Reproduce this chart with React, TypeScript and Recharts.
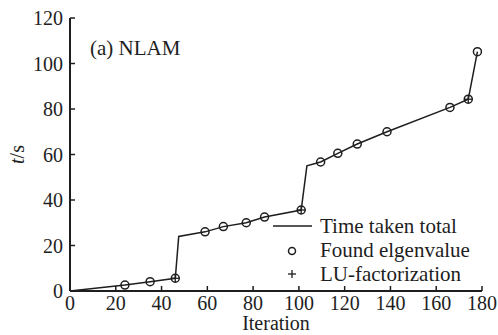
import {
  ComposedChart,
  Label,
  Legend,
  Line,
  ReferenceLine,
  Scatter,
  XAxis,
  YAxis,
} from "recharts";

// total elapsed time curve
const totalIter = [0, 24, 35, 46, 47.5, 59, 67, 77, 85, 101, 103.5, 109.5, 117, 125.5, 138.5, 166, 174, 178];
const totalTime = [0, 2.6, 4.1, 5.6, 24, 26, 28.3, 30, 32.5, 35.6, 55, 56.7, 60.5, 64.6, 70, 80.7, 84.3, 105.2];

// found eigenvalue markers
const eigenIter = [24, 35, 46, 59, 67, 77, 85, 101, 109.5, 117, 125.5, 138.5, 166, 174, 178];
const eigenTime = [2.6, 4.1, 5.6, 26, 28.3, 30, 32.5, 35.6, 56.7, 60.5, 64.6, 70, 80.7, 84.3, 105.2];

// LU-factorization markers
const luIter = [46, 101, 174];
const luTime = [5.6, 35.6, 84.3];

const xTicks = [0, 20, 40, 60, 80, 100, 120, 140, 160, 180];
const yTicks = [0, 20, 40, 60, 80, 100, 120];

const zip = (xs: number[], ys: number[]) => xs.map((x, i) => ({ x, y: ys[i] }));

const totalData = zip(totalIter, totalTime);
const eigenData = zip(eigenIter, eigenTime);
const luData = zip(luIter, luTime);

const FONT = "'Liberation Serif', serif";
const INK = "#1e1e1e";

function CircleMark(props: any) {
  const { cx, cy } = props;
  return <circle cx={cx} cy={cy} r={4} fill="none" stroke={INK} strokeWidth={1.5} />;
}

function PlusMark(props: any) {
  const { cx, cy } = props;
  return (
    <g stroke={INK} strokeWidth={1.3}>
      <line x1={cx - 4} y1={cy} x2={cx + 4} y2={cy} />
      <line x1={cx} y1={cy - 4} x2={cx} y2={cy + 4} />
    </g>
  );
}

function LegendBox() {
  const rows = ["Time taken total", "Found elgenvalue", "LU-factorization"];
  return (
    <svg width={228} height={80} style={{ display: "block" }}>
      <line x1={5} y1={14} x2={44} y2={14} stroke={INK} strokeWidth={1.5} />
      <circle cx={24} cy={39} r={3.5} fill="none" stroke={INK} strokeWidth={1.5} />
      <g stroke={INK} strokeWidth={1.3}>
        <line x1={20} y1={62} x2={28} y2={62} />
        <line x1={24} y1={58} x2={24} y2={66} />
      </g>
      {rows.map((r, i) => (
        <text key={r} x={52} y={21 + i * 24} style={{ fontFamily: FONT, fontSize: 21 }} fill={INK}>
          {r}
        </text>
      ))}
    </svg>
  );
}

function YLabel(props: any) {
  const { viewBox } = props;
  const cx = viewBox.x + 7;
  const cy = viewBox.y + viewBox.height / 2;
  return (
    <text
      x={cx}
      y={cy}
      transform={`rotate(-90, ${cx}, ${cy})`}
      textAnchor="middle"
      dominantBaseline="central"
      style={{ fontFamily: FONT, fontSize: 20 }}
      fill={INK}
    >
      <tspan fontStyle="italic">t</tspan>/s
    </text>
  );
}

export default function App() {
  const tickStyle = { fontFamily: FONT, fontSize: 20, fill: INK };
  return (
    <div style={{ position: "absolute", left: 0, top: 0, width: 498, height: 335, background: "#fff", fontFamily: FONT }}>
      <ComposedChart
        width={498}
        height={335}
        margin={{ top: 18, right: 16, bottom: 0, left: 10 }}
      >
        <XAxis
          type="number"
          dataKey="x"
          domain={[0, 180]}
          ticks={xTicks}
          interval={0}
          tickLine={false}
          tickSize={0}
          tickMargin={5}
          height={44}
          axisLine={{ stroke: INK, strokeWidth: 2 }}
          tick={tickStyle}
        >
          <Label
            value="Iteration"
            position="insideBottom"
            offset={5}
            style={{ fontFamily: FONT, fontSize: 20 }}
            fill={INK}
          />
        </XAxis>
        <YAxis
          type="number"
          dataKey="y"
          domain={[0, 120]}
          ticks={yTicks}
          interval={0}
          width={60}
          tickLine={false}
          tickSize={0}
          tickMargin={7}
          axisLine={{ stroke: INK, strokeWidth: 2 }}
          tick={tickStyle}
        >
          <Label content={<YLabel />} />
        </YAxis>

        {xTicks.slice(1).map((t) => (
          <ReferenceLine
            key={`xt${t}`}
            segment={[{ x: t, y: 0 }, { x: t, y: 2.2 }]}
            stroke={INK}
            strokeWidth={1.5}
          />
        ))}
        {yTicks.slice(1).map((t) => (
          <ReferenceLine
            key={`yt${t}`}
            segment={[{ x: 0, y: t }, { x: 2.2, y: t }]}
            stroke={INK}
            strokeWidth={1.5}
          />
        ))}

        <Line
          data={totalData}
          dataKey="y"
          type="linear"
          stroke={INK}
          strokeWidth={1.5}
          dot={false}
          activeDot={false}
          isAnimationActive={false}
          name="Time taken total"
        />
        <Scatter data={eigenData} shape={<CircleMark />} isAnimationActive={false} name="Found elgenvalue" />
        <Scatter data={luData} shape={<PlusMark />} isAnimationActive={false} name="LU-factorization" />

        <Legend
          layout="vertical"
          align="center"
          verticalAlign="middle"
          content={<LegendBox />}
          wrapperStyle={{ left: 268, top: 212, width: 228 }}
        />
      </ComposedChart>
      <div
        style={{
          position: "absolute",
          left: 90,
          top: 38,
          fontSize: 21,
          lineHeight: "21px",
          color: INK,
          whiteSpace: "nowrap",
        }}
      >
        (a) NLAM
      </div>
    </div>
  );
}
